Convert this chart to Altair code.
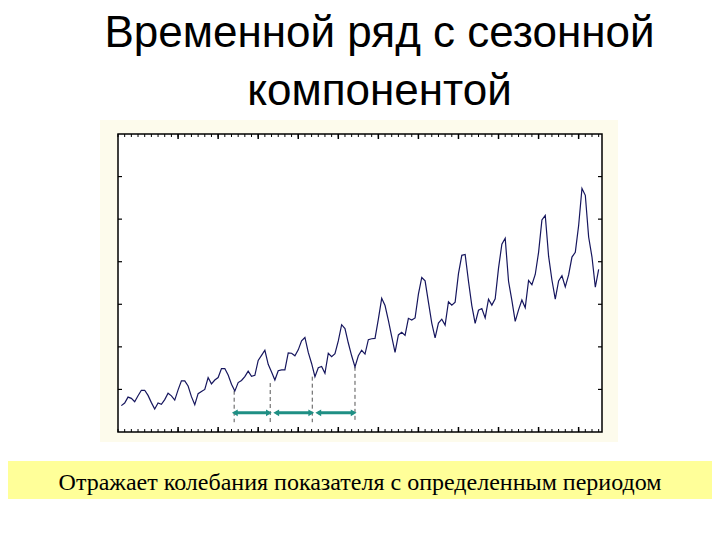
import altair as alt
import pandas as pd

# ---- data (monthly values, 12 years) ----
Y1949 = [112, 118, 132, 129, 121, 135, 148, 148, 136, 119, 104, 118]
Y1950 = [115, 126, 141, 135, 125, 149, 170, 170, 158, 133, 114, 140]
Y1951 = [145, 150, 178, 163, 172, 178, 199, 199, 184, 162, 146, 166]
Y1952 = [171, 180, 193, 181, 183, 218, 230, 242, 209, 191, 172, 194]
Y1953 = [196, 196, 236, 235, 229, 243, 264, 272, 237, 211, 180, 201]
Y1954 = [204, 188, 235, 227, 234, 264, 302, 293, 259, 229, 203, 229]
Y1955 = [242, 233, 267, 269, 270, 315, 364, 347, 312, 274, 237, 278]
Y1956 = [284, 277, 317, 313, 318, 374, 413, 405, 355, 306, 271, 306]
Y1957 = [315, 301, 356, 348, 355, 422, 465, 467, 404, 347, 305, 336]
Y1958 = [340, 318, 362, 348, 363, 435, 491, 505, 404, 359, 310, 337]
Y1959 = [360, 342, 406, 396, 420, 472, 548, 559, 463, 407, 362, 405]
Y1960 = [417, 391, 419, 461, 472, 535, 622, 606, 508, 461, 390, 432]

VALUES = (Y1949 + Y1950 + Y1951 + Y1952 + Y1953 + Y1954 +
          Y1955 + Y1956 + Y1957 + Y1958 + Y1959 + Y1960)
MONTHS = list(range(1, len(VALUES) + 1))

# period markers (dashed lines) and arrows between them
MARK_X = [34.8, 45.6, 58.2, 71.0]
MARK_TOP = [147, 165, 180, 203]
MARK_BOTTOM = [73, 73, 73, 73]
ARROW_START = [35.0, 47.4, 60.0]
ARROW_END = [45.2, 57.9, 70.6]
ARROW_LEVEL = [95, 95, 95]

# axis ticks
X_MINOR = list(range(0, 145, 2))
X_MAJOR = list(range(18, 145, 12))
Y_TICKS = [150, 250, 350, 450, 550, 650]

TITLE_LINES = ["Временной ряд с сезонной", "компонентой"]
CAPTION = "Отражает колебания показателя с определенным периодом"

W, H = 484, 298
xs = alt.Scale(domain=[0, 145], nice=False, zero=False)
ys = alt.Scale(domain=[50, 750], nice=False, zero=False)

series = pd.DataFrame({"m": MONTHS, "v": VALUES})
marks = pd.DataFrame({"x": MARK_X, "top": MARK_TOP, "bot": MARK_BOTTOM})
arrows = pd.DataFrame({"s": ARROW_START, "e": ARROW_END, "lvl": ARROW_LEVEL})
xminor = pd.DataFrame({"t": X_MINOR})
xmajor = pd.DataFrame({"t": X_MAJOR})
yticks = pd.DataFrame({"t": Y_TICKS})
one = alt.Data(values=[{}])


def box(x1, x2, y1, y2, fill, stroke=None):
    kw = dict(fill=fill)
    if stroke:
        kw.update(stroke=stroke, strokeWidth=1.5)
    return alt.Chart(one).mark_rect(**kw).encode(
        x=alt.value(x1), x2=alt.value(x2), y=alt.value(y1), y2=alt.value(y2))


cream = box(-18, 500, -14, 308, "#fdfbec")
frame = box(0, W, 0, H, "white", stroke="black")
yellow = box(-110, 594, 327, 365, "#ffff99")

tick_col = "black"
xb_minor = alt.Chart(xminor).mark_rule(color=tick_col, strokeWidth=1).encode(
    x=alt.X("t:Q", scale=xs, axis=None), y=alt.value(H), y2=alt.value(H - 3))
xt_minor = alt.Chart(xminor).mark_rule(color=tick_col, strokeWidth=1).encode(
    x=alt.X("t:Q", scale=xs, axis=None), y=alt.value(0), y2=alt.value(3))
xb_major = alt.Chart(xmajor).mark_rule(color=tick_col, strokeWidth=1.5).encode(
    x=alt.X("t:Q", scale=xs, axis=None), y=alt.value(H), y2=alt.value(H - 5))
xt_major = alt.Chart(xmajor).mark_rule(color=tick_col, strokeWidth=1.5).encode(
    x=alt.X("t:Q", scale=xs, axis=None), y=alt.value(0), y2=alt.value(5))
yl = alt.Chart(yticks).mark_rule(color=tick_col, strokeWidth=1.2).encode(
    y=alt.Y("t:Q", scale=ys, axis=None), x=alt.value(0), x2=alt.value(4))
yr = alt.Chart(yticks).mark_rule(color=tick_col, strokeWidth=1.2).encode(
    y=alt.Y("t:Q", scale=ys, axis=None), x=alt.value(W), x2=alt.value(W - 4))

line = alt.Chart(series).mark_line(color="#16165e", strokeWidth=1.2).encode(
    x=alt.X("m:Q", scale=xs, axis=None),
    y=alt.Y("v:Q", scale=ys, axis=None))

dashed = alt.Chart(marks).mark_rule(color="#555555", strokeWidth=1,
                                    strokeDash=[4, 3]).encode(
    x=alt.X("x:Q", scale=xs, axis=None),
    y=alt.Y("top:Q", scale=ys, axis=None), y2="bot:Q")

teal = "#1f8f84"
arrow_body = alt.Chart(arrows).mark_rule(color=teal, strokeWidth=3).encode(
    x=alt.X("s:Q", scale=xs, axis=None), x2="e:Q",
    y=alt.Y("lvl:Q", scale=ys, axis=None))
head_l = alt.Chart(arrows).mark_point(shape="triangle-left", filled=True,
                                      color=teal, size=45, opacity=1).encode(
    x=alt.X("s:Q", scale=xs, axis=None), y=alt.Y("lvl:Q", scale=ys, axis=None))
head_r = alt.Chart(arrows).mark_point(shape="triangle-right", filled=True,
                                      color=teal, size=45, opacity=1).encode(
    x=alt.X("e:Q", scale=xs, axis=None), y=alt.Y("lvl:Q", scale=ys, axis=None))

title1 = alt.Chart(one).mark_text(font="Liberation Sans", fontSize=44,
                                  align="center", baseline="alphabetic",
                                  color="black").encode(
    x=alt.value(261.5), y=alt.value(47 - 134), text=alt.value(TITLE_LINES[0]))
title2 = alt.Chart(one).mark_text(font="Liberation Sans", fontSize=44,
                                  align="center", baseline="alphabetic",
                                  color="black").encode(
    x=alt.value(261.5), y=alt.value(105 - 134), text=alt.value(TITLE_LINES[1]))
caption = alt.Chart(one).mark_text(font="Liberation Serif", fontSize=24,
                                   align="center", baseline="alphabetic",
                                   color="black").encode(
    x=alt.value(360 - 118), y=alt.value(490 - 134), text=alt.value(CAPTION))

chart = alt.layer(
    cream, frame, yellow,
    xb_minor, xt_minor, xb_major, xt_major, yl, yr,
    dashed, arrow_body, head_l, head_r, line,
    title1, title2, caption,
).properties(
    width=W, height=H,
    autosize=alt.AutoSizeParams(type="none"),
    padding={"left": 110, "top": 126, "right": 110, "bottom": 100},
    background="white",
).configure_view(stroke=None)

chart.save("out.html", embed_options={"renderer": "svg", "actions": False})
